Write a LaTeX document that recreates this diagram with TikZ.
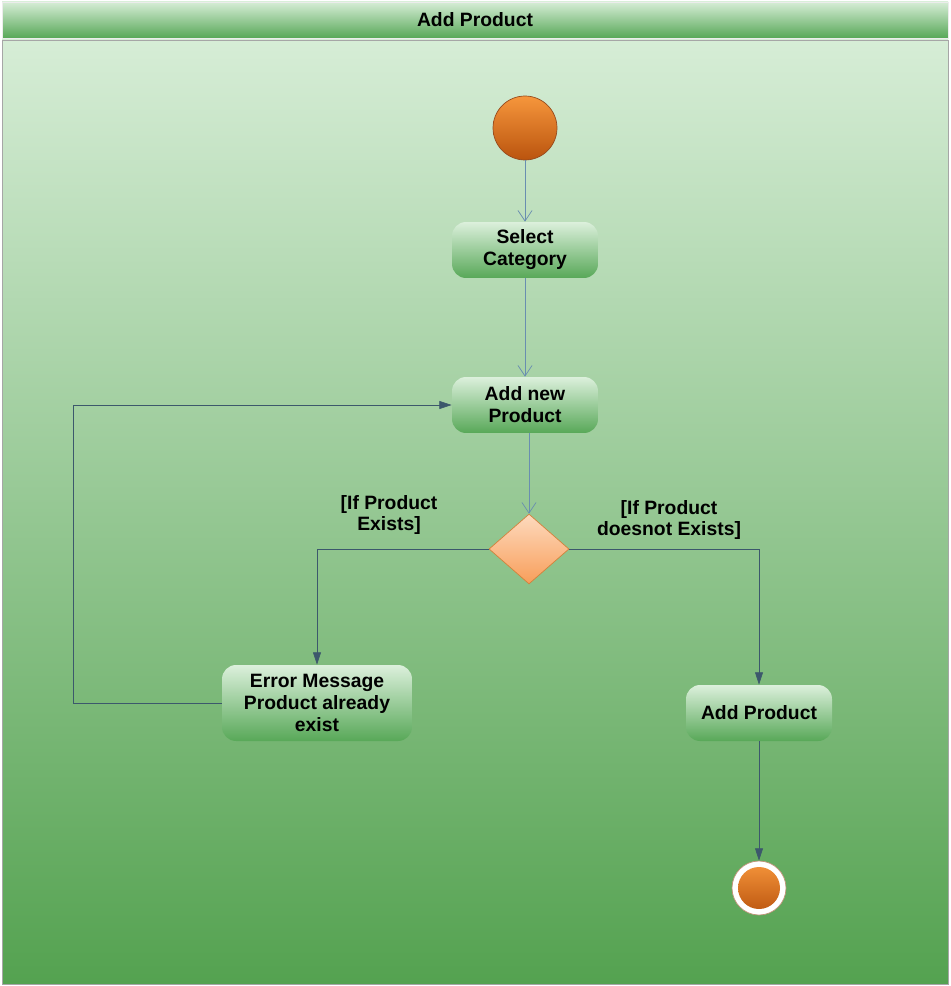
\documentclass[tikz,border=0pt]{standalone}
\usepackage{fontspec}
\setmainfont{Liberation Sans}
\usetikzlibrary{shapes.geometric,arrows.meta}
\definecolor{bodytop}{RGB}{214,237,214}
\definecolor{bodybot}{RGB}{84,162,80}
\definecolor{boxtop}{RGB}{220,240,220}
\definecolor{boxbot}{RGB}{88,168,88}
\definecolor{orgtop}{RGB}{246,150,60}
\definecolor{orgbot}{RGB}{186,84,14}
\definecolor{orgline}{RGB}{150,75,30}
\definecolor{dectop}{RGB}{253,218,190}
\definecolor{decbot}{RGB}{248,158,90}
\definecolor{decline}{RGB}{210,130,60}
\definecolor{lightline}{RGB}{105,142,176}
\definecolor{darkline}{RGB}{60,88,108}
\tikzset{
  txt/.style={font=\fontsize{11}{12.5}\selectfont\bfseries, align=center},
  actbox/.style={txt, rounded corners=0.28cm, top color=boxtop, bottom color=boxbot,
    minimum width=2.92cm, minimum height=1.12cm, inner sep=2pt},
  decbox/.style={diamond, draw=decline, top color=dectop, bottom color=decbot,
    minimum width=1.6cm, minimum height=1.4cm, inner sep=0pt},
  openarr/.style={draw=lightline, thin, -{Straight Barb[length=6pt,width=8pt]}},
  fillarr/.style={draw=darkline, thin, -{Triangle[length=7pt,width=4.5pt]}},
}
\begin{document}
\begin{tikzpicture}[x=0.02cm,y=-0.02cm]
  \useasboundingbox (0,0) rectangle (950,986);
  % background and title bar
  \shade[top color=bodytop, bottom color=bodybot, draw=gray!70] (2,40) rectangle (948,984);
  \shade[top color=bodytop, bottom color=boxbot, draw=white!85!gray] (2,2) rectangle (948,38);
  \node[txt] (title) at (475,20) {Add Product};

  % activity nodes
  \node[circle, draw=orgline, top color=orgtop, bottom color=orgbot, minimum size=1.28cm] (start) at (525,128) {};
  \node[actbox] (select) at (525,250) {Select\\Category};
  \node[actbox] (addnew) at (525,405) {Add new\\Product};
  \node[decbox] (dec) at (529,549) {};
  \node[actbox, minimum width=3.8cm, minimum height=1.52cm] (error) at (317,703) {Error Message\\Product already\\exist};
  \node[actbox] (addprod) at (759,713) {Add Product};
  \node[circle, fill=white, draw=orgline!60, minimum size=1.08cm,
    path picture={\shade[top color=orgtop, bottom color=orgbot]
      (path picture bounding box.center) circle (0.42cm);}] (end) at (759,888) {};

  % guards
  \node[txt] (ifyes) at (389,515) {[If Product\\Exists]};
  \node[txt] (ifno) at (669,520) {[If Product\\doesnot Exists]};

  % flows
  \draw[openarr] (start) -- (select);
  \draw[openarr] (select) -- (addnew);
  \draw[openarr] (dec.north |- addnew.south) -- (dec.north);
  \draw[fillarr] (dec.west) -| (error.north);
  \draw[fillarr] (dec.east) -| (addprod.north);
  \coordinate (loop) at (73,703);
  \draw[fillarr] (error.west) -- (loop) |- (addnew.west);
  \draw[fillarr] (addprod) -- (end);
\end{tikzpicture}
\end{document}
